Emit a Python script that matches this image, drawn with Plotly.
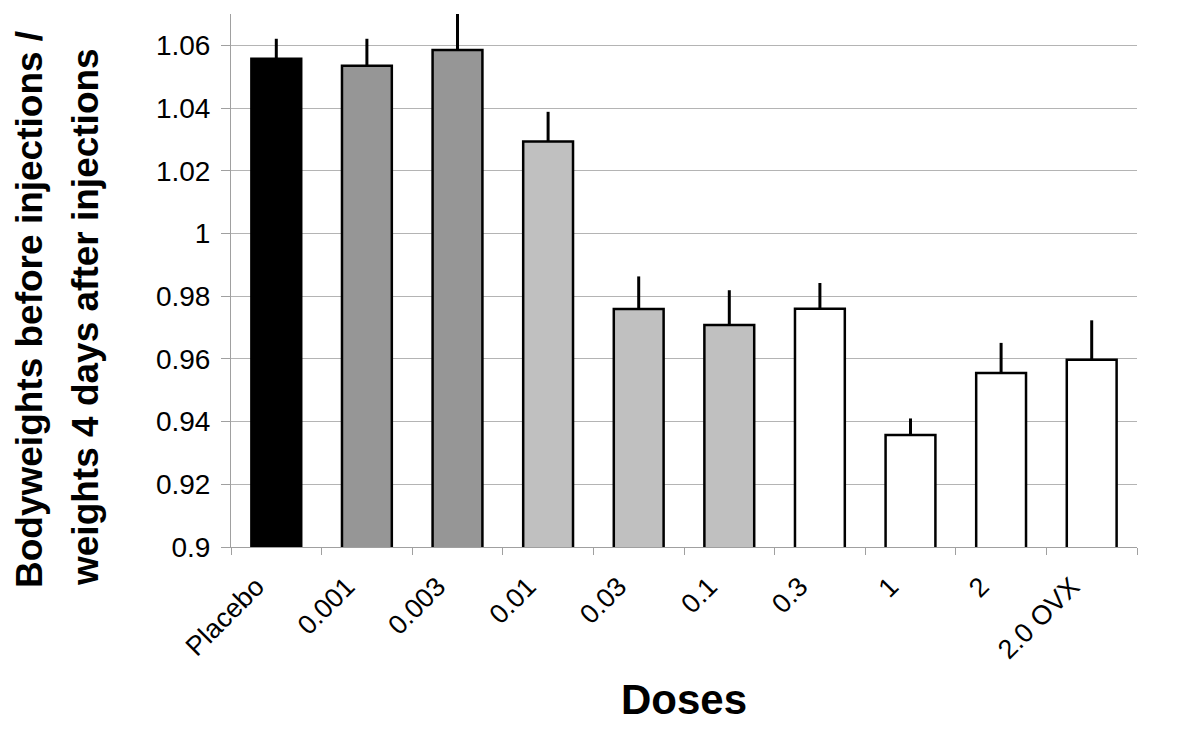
import plotly.graph_objects as go

categories = ["Placebo", "0.001", "0.003", "0.01", "0.03", "0.1", "0.3", "1", "2", "2.0 OVX"]
ratio_means = [1.0557, 1.0535, 1.0585, 1.0293, 0.9759, 0.9708, 0.9760, 0.9357, 0.9555, 0.9597]
ratio_errors = [0.0064, 0.0086, 0.0125, 0.0095, 0.0104, 0.0111, 0.0082, 0.0053, 0.0096, 0.0126]
bar_colors = ["#000000", "#969696", "#969696", "#c0c0c0", "#c0c0c0", "#c0c0c0",
              "#ffffff", "#ffffff", "#ffffff", "#ffffff"]
y_tick_values = [0.9, 0.92, 0.94, 0.96, 0.98, 1.0, 1.02, 1.04, 1.06]
y_tick_labels = ["0.9", "0.92", "0.94", "0.96", "0.98", "1", "1.02", "1.04", "1.06"]

fig = go.Figure()
fig.add_trace(go.Bar(
    x=categories,
    y=ratio_means,
    base=0,
    marker=dict(color=bar_colors, line=dict(color="#000000", width=2.5)),
    width=0.55,
    error_y=dict(type="data", symmetric=False, array=ratio_errors,
                 arrayminus=[0] * len(ratio_errors),
                 color="#000000", thickness=3, width=0),
    cliponaxis=False,
    showlegend=False,
))

font_family = "Liberation Sans, Arial, sans-serif"

fig.update_layout(
    width=1192, height=725,
    margin=dict(l=223, r=63, t=6, b=186),
    paper_bgcolor="#ffffff",
    plot_bgcolor="#ffffff",
    font=dict(family=font_family, color="#000000"),
    xaxis=dict(
        type="category",
        showline=True, linecolor="#a0a0a0", linewidth=1,
        ticks="outside", tickson="boundaries", ticklen=7, tickcolor="#a0a0a0",
        tickangle=-45,
        tickfont=dict(size=27, family=font_family, color="#000000"),
        ticklabelstandoff=12,
        ticklabelshift=-20,
        showgrid=False,
        title=None,
    ),
    yaxis=dict(
        range=[0.9, 1.07],
        tickvals=y_tick_values, ticktext=y_tick_labels,
        showline=True, linecolor="#a0a0a0", linewidth=1,
        ticks="outside", ticklen=9, tickcolor="#a0a0a0",
        tickfont=dict(size=28, family=font_family, color="#000000"),
        ticklabelstandoff=5,
        showgrid=True, gridcolor="#b4b4b4", gridwidth=1,
        zeroline=False,
        title=None,
    ),
    annotations=[
        dict(text="<b>Bodyweights before injections /</b>", textangle=-90,
             xref="paper", yref="paper", x=(29 - 231) / 906, y=(547 - 310) / 533,
             xanchor="center", yanchor="middle", showarrow=False,
             font=dict(size=37, family=font_family, color="#000000")),
        dict(text="<b>weights 4 days after injections</b>", textangle=-90,
             xref="paper", yref="paper", x=(85 - 231) / 906, y=(547 - 317) / 533,
             xanchor="center", yanchor="middle", showarrow=False,
             font=dict(size=37, family=font_family, color="#000000")),
        dict(text="<b>Doses</b>",
             xref="paper", yref="paper", x=(684 - 231) / 906, y=(547 - 699) / 533,
             xanchor="center", yanchor="middle", showarrow=False,
             font=dict(size=42, family=font_family, color="#000000")),
    ],
)

fig.write_html("out.html")
